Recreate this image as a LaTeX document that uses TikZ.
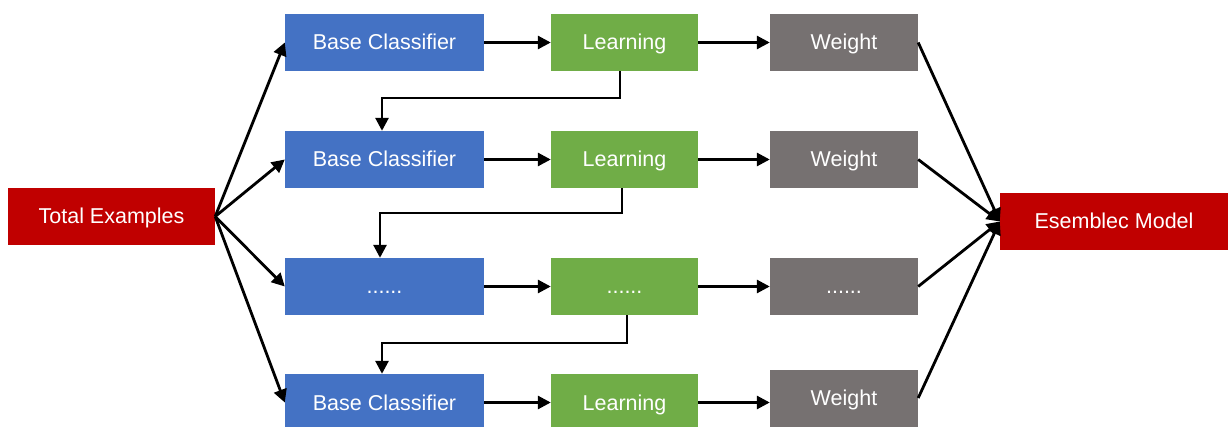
\documentclass[tikz,border=0pt]{standalone}
\usepackage{fontspec}
\setmainfont{Liberation Sans}
\usetikzlibrary{arrows.meta}
\definecolor{cblue}{HTML}{4472C4}
\definecolor{cgreen}{HTML}{70AD47}
\definecolor{cgray}{HTML}{767171}
\definecolor{cred}{HTML}{C00000}
\begin{document}
\begin{tikzpicture}[x=1pt,y=-1pt,
  box/.style={inner sep=0pt,minimum height=57pt,text=white,text height=15pt,text depth=0pt,font=\fontsize{21.5}{24}\selectfont},
  bluebox/.style={box,fill=cblue,minimum width=199pt},
  greenbox/.style={box,fill=cgreen,minimum width=147pt},
  graybox/.style={box,fill=cgray,minimum width=148pt},
  redbox/.style={box,fill=cred},
  arr/.style={line width=2.8pt,-{Triangle[length=13pt,width=13pt]}}]
\useasboundingbox (0,0) rectangle (1228,427);
\node[redbox,minimum width=207pt] (te) at (111.5,216.5) {Total Examples};
\node[redbox,minimum width=228pt] (em) at (1114,221.5) {Esemblec Model};
\foreach \i/\y in {1/42.5,2/159.5,3/286.5,4/402.5}{
  \node[bluebox] (b\i) at (384.5,\y) {};
  \node[greenbox] (g\i) at (624.5,\y) {};
}
\node[graybox] (w1) at (844,42.5) {Weight};
\node[graybox] (w2) at (844,159.5) {Weight};
\node[graybox] (w3) at (844,286.5) {......};
\node[graybox] (w4) at (844,398) {Weight};
\node[box] at (b1) {Base Classifier};
\node[box] at (b2) {Base Classifier};
\node[box] at (b3) {......};
\node[box] at (b4) {Base Classifier};
\node[box] at (g1) {Learning};
\node[box] at (g2) {Learning};
\node[box] at (g3) {......};
\node[box] at (g4) {Learning};
\foreach \i in {1,2,3,4}{
  \draw[arr] (te.east) -- (b\i.west);
  \draw[arr] (b\i.east) -- (g\i.west);
  \draw[arr] (g\i.east) -- (g\i.east -| w\i.west);
  \draw[arr] (w\i.east) -- (em.west);
}
\coordinate (k1) at (620,98);
\coordinate (k2) at (622,213);
\coordinate (k3) at (627,343);
\draw[arr] (g1.south -| k1) -- (k1) -| ([xshift=-2.5pt]b2.north);
\draw[arr] (g2.south -| k2) -- (k2) -| ([xshift=-4.5pt]b3.north);
\draw[arr] (g3.south -| k3) -- (k3) -| ([xshift=-2.5pt]b4.north);
\end{tikzpicture}
\end{document}
